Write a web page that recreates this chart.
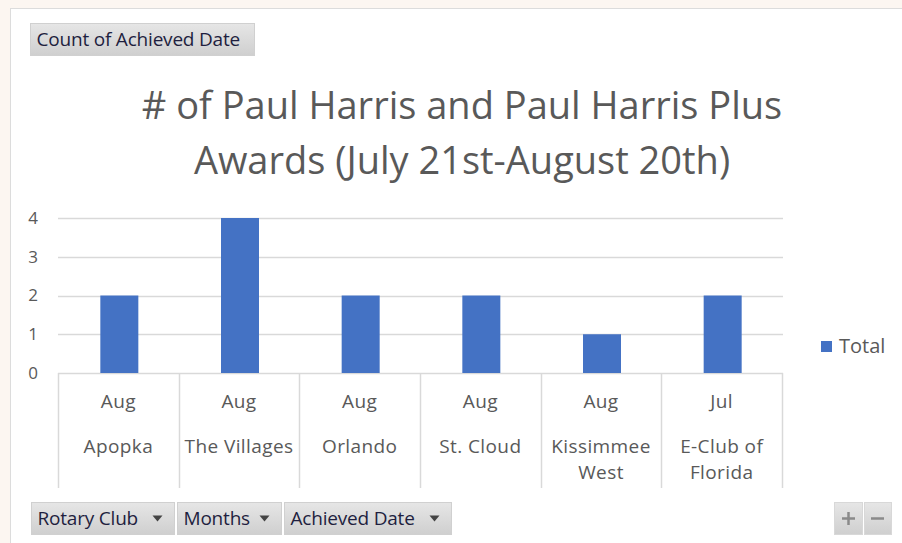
<!DOCTYPE html>
<html>
<head>
<meta charset="utf-8">
<script src="https://cdn.jsdelivr.net/npm/d3@7"></script>
<style>
  html, body { margin: 0; padding: 0; background: #fcf6f1; }
  svg { display: block; }
  text { font-family: "Open Sans", "Noto Sans", sans-serif; }
</style>
</head>
<body>
<div id="chart"></div>
<script>
let clubs = ['Apopka', 'The Villages', 'Orlando', 'St. Cloud', 'Kissimmee West', 'E-Club of Florida']
let clubLines = [['Apopka'], ['The Villages'], ['Orlando'], ['St. Cloud'], ['Kissimmee', 'West'], ['E-Club of', 'Florida']]
let months = ['Aug', 'Aug', 'Aug', 'Aug', 'Aug', 'Jul']
let totals = [2, 4, 2, 2, 1, 2]
let yTicks = [0, 1, 2, 3, 4]
let fieldButtons = ['Rotary Club', 'Months', 'Achieved Date']

let width = 902
let height = 543
let margin = { top: 218, left: 58, right: 120, bottom: 170 }

let svg = d3
  .select('#chart')
  .append('svg')
  .attr('width', width)
  .attr('height', height)

// white chart panel
svg
  .append('rect')
  .attr('x', 10.5)
  .attr('y', 8.5)
  .attr('width', width)
  .attr('height', height)
  .attr('fill', 'white')
  .attr('stroke', '#dcdcdc')

let x = d3
  .scaleBand()
  .domain(clubs)
  .range([margin.left, width - margin.right])

let y = d3
  .scaleLinear()
  .domain([0, 4])
  .range([373, margin.top])

// gridlines
svg
  .append('g')
  .selectAll('line')
  .data(yTicks)
  .enter()
  .append('line')
  .attr('x1', margin.left)
  .attr('x2', width - margin.right + 1)
  .attr('y1', d => Math.round(y(d)) + 0.5)
  .attr('y2', d => Math.round(y(d)) + 0.5)
  .attr('stroke', '#d9d9d9')
  .attr('stroke-width', 1.5)

svg
  .append('g')
  .selectAll('text')
  .data(yTicks)
  .enter()
  .append('text')
  .attr('x', 33)
  .attr('y', d => y(d))
  .attr('dy', '0.35em')
  .attr('text-anchor', 'middle')
  .attr('font-size', 17)
  .attr('fill', '#595959')
  .text(d => d)

// category boxes
let edges = clubs.map(c => x(c)).concat([x.range()[1]])
svg
  .append('g')
  .selectAll('line')
  .data(edges)
  .enter()
  .append('line')
  .attr('x1', d => Math.round(d) + 0.5)
  .attr('x2', d => Math.round(d) + 0.5)
  .attr('y1', 373)
  .attr('y2', 488)
  .attr('stroke', '#d9d9d9')
  .attr('stroke-width', 1.5)

// bars
let barW = 38
svg
  .append('g')
  .selectAll('rect')
  .data(totals)
  .enter()
  .append('rect')
  .attr('x', (d, i) => x(clubs[i]) + x.bandwidth() / 2 - barW / 2 + 1)
  .attr('y', d => y(d))
  .attr('width', barW)
  .attr('height', d => y(0) - y(d))
  .attr('fill', '#4472c4')

// month labels
svg
  .append('g')
  .selectAll('text')
  .data(months)
  .enter()
  .append('text')
  .attr('x', (d, i) => x(clubs[i]) + x.bandwidth() / 2)
  .attr('y', 401)
  .attr('dy', '0.35em')
  .attr('text-anchor', 'middle')
  .attr('font-size', 19)
  .attr('letter-spacing', 0.4)
  .attr('fill', '#595959')
  .text(d => d)

// club labels
let clubG = svg
  .append('g')
  .selectAll('text')
  .data(clubLines)
  .enter()
  .append('text')
  .attr('x', (d, i) => x(clubs[i]) + x.bandwidth() / 2)
  .attr('y', 446)
  .attr('text-anchor', 'middle')
  .attr('font-size', 19)
  .attr('letter-spacing', 0.4)
  .attr('fill', '#595959')

clubG
  .selectAll('tspan')
  .data((d, i) => d.map(t => ({ t, i })))
  .enter()
  .append('tspan')
  .attr('x', d => x(clubs[d.i]) + x.bandwidth() / 2)
  .attr('dy', (d, j) => (j === 0 ? '0.35em' : 26))
  .text(d => d.t)

// title
let title = svg
  .append('text')
  .attr('text-anchor', 'middle')
  .attr('font-size', 38)
  .attr('fill', '#595959')

title.append('tspan').attr('x', 462).attr('y', 119).text('# of Paul Harris and Paul Harris Plus')
title.append('tspan').attr('x', 462).attr('y', 174).text('Awards (July 21st-August 20th)')

// legend
svg
  .append('rect')
  .attr('x', 821)
  .attr('y', 341)
  .attr('width', 11)
  .attr('height', 11)
  .attr('fill', '#4472c4')

svg
  .append('text')
  .attr('x', 839)
  .attr('y', 346)
  .attr('dy', '0.35em')
  .attr('font-size', 20)
  .attr('fill', '#595959')
  .text('Total')

let defs = svg.append('defs')
let lg = defs
  .append('linearGradient')
  .attr('id', 'btnGrad')
  .attr('x1', 0)
  .attr('y1', 0)
  .attr('x2', 0)
  .attr('y2', 1)
lg.append('stop').attr('offset', '0%').attr('stop-color', '#e6e6e6')
lg.append('stop').attr('offset', '100%').attr('stop-color', '#cfcfcf')

// pivot field buttons
function button(bx, by, bw, bh, label, arrow) {
  let g = svg.append('g')
  g.append('rect')
    .attr('x', bx)
    .attr('y', by)
    .attr('width', bw)
    .attr('height', bh)
    .attr('fill', 'url(#btnGrad)')
    .attr('stroke', '#d0d0d0')
  g.append('text')
    .attr('x', bx + 6)
    .attr('y', by + bh / 2)
    .attr('dy', '0.35em')
    .attr('font-family', '"Liberation Sans Narrow", "Liberation Sans", sans-serif')
    .attr('font-size', 19)
    .attr('letter-spacing', -0.2)
    .attr('fill', '#1f1f3f')
    .text(label)
  if (arrow) {
    let ax = bx + bw - 17
    let ay = by + bh / 2
    g.append('path')
      .attr('d', `M${ax - 5},${ay - 3}L${ax + 5},${ay - 3}L${ax},${ay + 3}Z`)
      .attr('fill', '#444')
  }
  return g
}

button(30.5, 23.5, 224, 32, 'Count of Achieved Date', false)

let bxs = [31.5, 177.5, 284.5]
let bws = [143, 104, 167]
fieldButtons.forEach((f, i) => button(bxs[i], 502.5, bws[i], 32, f, true))

// +/- buttons
let pm = svg.append('g')
pm.append('rect').attr('x', 834.5).attr('y', 502.5).attr('width', 28).attr('height', 32).attr('fill', 'url(#btnGrad)').attr('stroke', '#d8d8d8')
pm.append('rect').attr('x', 864.5).attr('y', 502.5).attr('width', 27).attr('height', 32).attr('fill', 'url(#btnGrad)').attr('stroke', '#d8d8d8')
pm.append('path').attr('d', 'M842,518.5h13M848.5,512v13').attr('stroke', '#8a8a8a').attr('stroke-width', 2.5)
pm.append('path').attr('d', 'M871,518.5h13').attr('stroke', '#8a8a8a').attr('stroke-width', 2.5)
</script>
</body>
</html>
